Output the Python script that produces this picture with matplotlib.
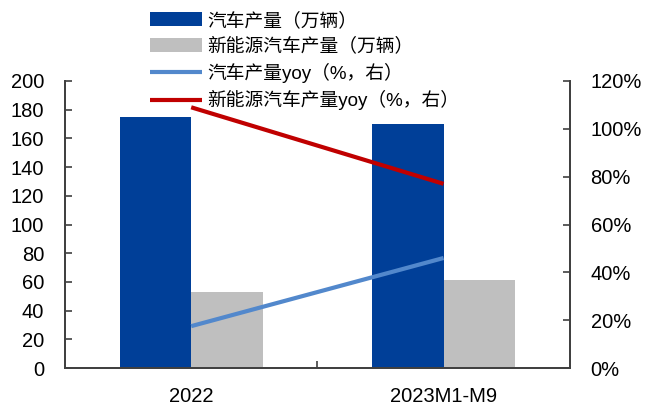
import numpy as np
import matplotlib
matplotlib.use("Agg")
from matplotlib import pyplot as plt

plt.rcParams["font.family"] = ["Liberation Sans", "Noto Sans CJK SC", "DejaVu Sans"]

categories = ["2022", "2023M1-M9"]
auto_output = [175, 170]          # 万辆
nev_output = [53, 61]             # 万辆
auto_yoy = [17.5, 46]             # %
nev_yoy = [109, 77]               # %

labels = [
    "汽车产量（万辆）",
    "新能源汽车产量（万辆）",
    "汽车产量yoy（%，右）",
    "新能源汽车产量yoy（%，右）",
]

BLUE = "#003f98"
GRAY = "#bfbfbf"
LIGHT_BLUE = "#5288cc"
RED = "#c00000"

fig = plt.figure(figsize=(6.46, 4.08), dpi=100)
ax = fig.add_axes([0.1006, 0.098, 0.882 - 0.1006, 0.8015 - 0.098])
ax2 = ax.twinx()

x = np.arange(len(categories))
w = 0.284
b1 = ax.bar(x - w / 2, auto_output, w, color=BLUE, label=labels[0], zorder=2)
b2 = ax.bar(x + w / 2, nev_output, w, color=GRAY, label=labels[1], zorder=2)
l1, = ax2.plot(x, auto_yoy, color=LIGHT_BLUE, lw=3, label=labels[2], solid_capstyle="butt")
l2, = ax2.plot(x, nev_yoy, color=RED, lw=3, label=labels[3], solid_capstyle="butt")

ax.set_xlim(-0.5, 1.5)
ax.set_ylim(0, 200)
ax.set_yticks(range(0, 201, 20))
ax2.set_ylim(0, 120)
ax2.set_yticks(range(0, 121, 20))
ax2.set_yticklabels([f"{v}%" for v in range(0, 121, 20)])

ax.set_xticks(x)
ax.set_xticklabels(categories)
ax.set_xticks([0.5], minor=True)
ax.tick_params(axis="x", which="major", length=0, pad=14, labelsize=14.5)
ax.tick_params(axis="x", which="minor", length=5, direction="in", width=1.2, color="#404040")
ax.tick_params(axis="y", length=5, direction="in", width=1.2, pad=15, labelsize=14.5, color="#404040")
ax2.tick_params(axis="y", length=5, direction="in", width=1.2, pad=15, labelsize=14.5, color="#404040")

for a in (ax, ax2):
    a.spines["top"].set_visible(False)
    for s in ("left", "right", "bottom"):
        a.spines[s].set_linewidth(1.3)
        a.spines[s].set_color("#404040")

fig.legend(
    [b1, b2, l1, l2], labels,
    loc="upper left", bbox_to_anchor=(150 / 646, 1 - 12 / 408),
    frameon=False, fontsize=13.5, handlelength=2.75, handleheight=0.75,
    handletextpad=0.3, labelspacing=0.4, borderpad=0, borderaxespad=0,
)

fig.savefig("out.png", dpi=100)
